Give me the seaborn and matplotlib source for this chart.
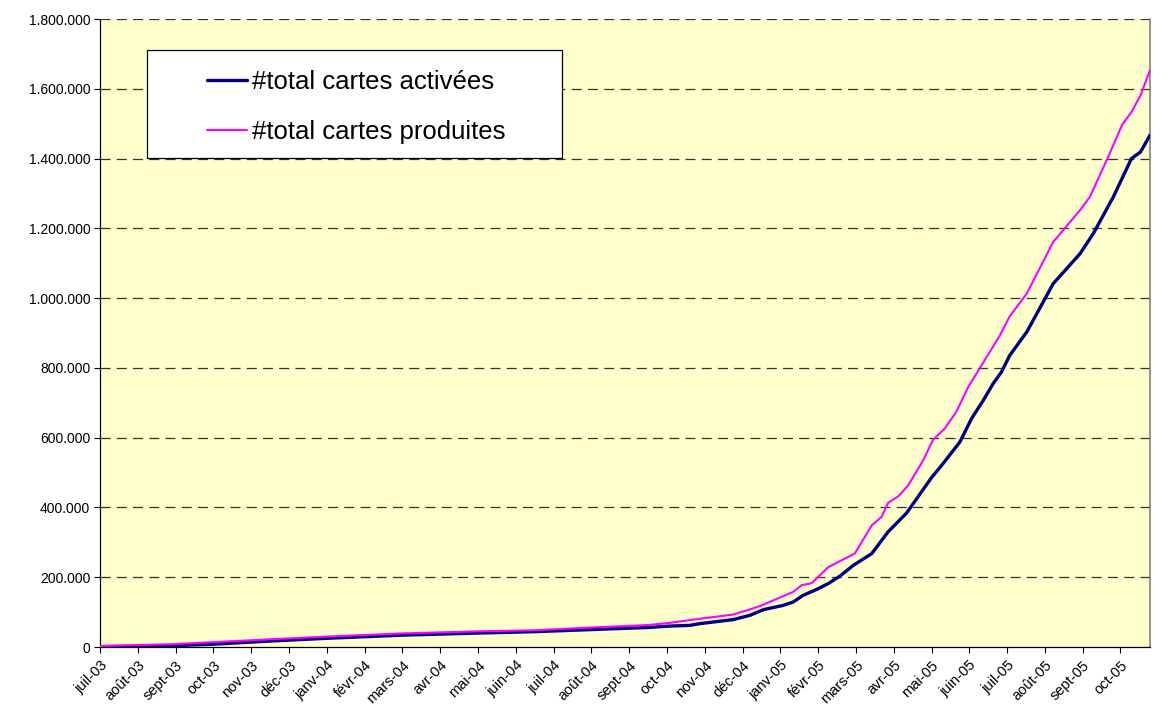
import numpy as np
import pandas as pd
import matplotlib
matplotlib.use("Agg")
import matplotlib.pyplot as plt
import seaborn as sns
from matplotlib.patches import Rectangle
from matplotlib.ticker import FuncFormatter

# mois depuis juil-03 (0 = juil-03)
mois_labels = [
    "juil-03", "août-03", "sept-03", "oct-03", "nov-03", "déc-03", "janv-04",
    "févr-04", "mars-04", "avr-04", "mai-04", "juin-04", "juil-04", "août-04",
    "sept-04", "oct-04", "nov-04", "déc-04", "janv-05", "févr-05", "mars-05",
    "avr-05", "mai-05", "juin-05", "juil-05", "août-05", "sept-05", "oct-05",
]

activees_x = [0, 1.0, 2.0, 3.0, 4.47, 6.0, 8.0, 10.0, 11.5, 13.0, 14.5, 15.06,
              15.6, 15.87, 16.75, 17.2, 17.55, 18.08, 18.34, 18.6, 18.96, 19.27,
              19.58, 19.93, 20.42, 20.85, 21.34, 22.0, 22.27, 22.75, 23.06, 23.37,
              23.63, 23.85, 24.07, 24.52, 25.22, 25.93, 26.28, 26.81, 27.29, 27.53,
              27.78]
activees_y = [1, 2, 4, 8, 17, 25, 34, 40, 44, 50, 56, 60,
              62, 67, 78.5, 91, 107, 119.5, 129, 148, 165, 182,
              203.5, 234, 268, 330, 384, 485.5, 521, 587.5, 655, 707,
              755, 788, 836, 903, 1041.5, 1127.5, 1185, 1290, 1400, 1419,
              1467]

produites_x = [0, 1.88, 3.0, 4.47, 6.0, 8.0, 10.0, 11.5, 13.0, 14.5, 15.06,
               15.87, 16.75, 17.2, 17.46, 18.34, 18.56, 18.83, 19.27, 19.97,
               20.42, 20.68, 20.85, 21.12, 21.38, 21.78, 22.04, 22.35, 22.66,
               22.97, 23.81, 24.07, 24.52, 25.22, 25.93, 26.19, 26.67, 27.05,
               27.29, 27.53, 27.78]
produites_y = [3, 8, 14, 22, 30, 39, 45, 48, 56, 63, 69,
               81, 93, 108, 117.5, 158, 177, 183, 229, 268,
               349, 373, 413, 432, 463, 535, 594, 626, 675,
               745, 893, 948, 1013, 1161, 1252, 1290, 1404, 1498,
               1533, 1581, 1653]

df_act = pd.DataFrame({"mois": activees_x, "cartes": np.array(activees_y) * 1000})
df_prod = pd.DataFrame({"mois": produites_x, "cartes": np.array(produites_y) * 1000})

sns.set_theme(style="white")
plt.rcParams["font.family"] = ["Liberation Sans", "DejaVu Sans"]
plt.rcParams["text.color"] = "black"

fig = plt.figure(figsize=(11.63, 7.17), dpi=100)
ax = fig.add_axes([0.086, 0.0976, 0.9028, 0.8759])
ax.set_facecolor("#FFFFCC")

sns.lineplot(data=df_act, x="mois", y="cartes", ax=ax, color="#000080",
             linewidth=2.4, label="#total cartes activées", zorder=3)
sns.lineplot(data=df_prod, x="mois", y="cartes", ax=ax, color="#FF00FF",
             linewidth=1.5, label="#total cartes produites", zorder=3)

ax.set_xlim(0, 27.78)
ax.set_ylim(0, 1800000)
ax.set_yticks(np.arange(0, 1800001, 200000))
ax.yaxis.set_major_formatter(FuncFormatter(lambda v, p: f"{int(v):,}".replace(",", ".")))
ax.set_xticks(range(len(mois_labels)))
ax.set_xticklabels(mois_labels, rotation=45, ha="right", rotation_mode="anchor")
ax.set_xlabel("")
ax.set_ylabel("")

ax.tick_params(axis="both", labelsize=10, colors="black", length=4, width=0.8,
               direction="out", bottom=True, left=True)
ax.tick_params(axis="x", labelsize=10.5, pad=4)
ax.tick_params(axis="y", pad=3)

for v in np.arange(200000, 1800001, 200000):
    ax.axhline(v, color="#333333", linewidth=0.9, linestyle=(0, (8, 5)), zorder=1)

ax.spines["top"].set_visible(False)
ax.spines["right"].set_color("#808080")
ax.spines["right"].set_linewidth(1.2)
ax.spines["left"].set_color("black")
ax.spines["bottom"].set_color("black")
ax.spines["left"].set_linewidth(0.9)
ax.spines["bottom"].set_linewidth(0.9)

ax.add_patch(Rectangle((0.0448, 0.7786), 0.3952, 0.172, transform=ax.transAxes,
                       facecolor="white", edgecolor="black", linewidth=0.9, zorder=4))
leg = ax.legend(loc="upper left", bbox_to_anchor=(0.102, 0.919), frameon=False,
                fontsize=18.5, handlelength=1.55, handletextpad=0.2,
                borderpad=0, borderaxespad=0, labelspacing=1.02)
leg.set_zorder(5)

plt.savefig("out.png", dpi=100)
plt.close()
